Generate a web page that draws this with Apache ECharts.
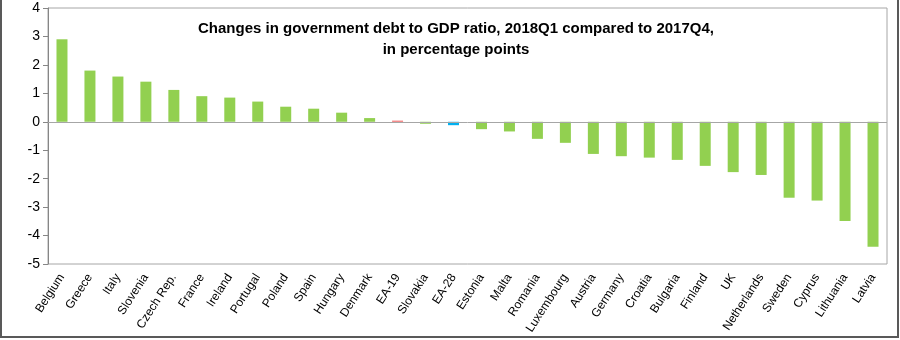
<!DOCTYPE html>
<html><head><meta charset="utf-8">
<script src="https://cdn.jsdelivr.net/npm/echarts@6/dist/echarts.min.js"></script>
<style>html,body{margin:0;padding:0;background:#fff}#c{width:900px;height:340px}</style>
</head><body><div id="c"></div>
<script>
const categories = ["Belgium","Greece","Italy","Slovenia","Czech Rep.","France","Ireland","Portugal","Poland","Spain","Hungary","Denmark","EA-19","Slovakia","EA-28","Estonia","Malta","Romania","Luxembourg","Austria","Germany","Croatia","Bulgaria","Finland","UK","Netherlands","Sweden","Cyprus","Lithuania","Latvia"];
const values = [2.9,1.8,1.59,1.41,1.12,0.9,0.85,0.71,0.53,0.46,0.32,0.13,0.04,-0.07,-0.12,-0.26,-0.34,-0.6,-0.74,-1.13,-1.21,-1.26,-1.34,-1.55,-1.77,-1.87,-2.67,-2.77,-3.49,-4.39];
const yTicks = [-5,-4,-3,-2,-1,0,1,2,3,4];
const highlight = {"EA-19":"#F26D6D","EA-28":"#00B0F0"};
const title = "Changes in government debt to GDP ratio, 2018Q1 compared to 2017Q4,\nin percentage points";

const chart = echarts.init(document.getElementById('c'), null, {renderer:'canvas'});
chart.setOption({
  animation:false,
  title:{text:title,left:451,top:13,textAlign:'center',
    textStyle:{fontFamily:'Liberation Sans, Arial',fontSize:15,fontWeight:'bold',color:'#000',lineHeight:21}},
  grid:{left:48,right:13,top:8,bottom:76,show:true,borderColor:'#a6a6a6',borderWidth:1},
  xAxis:{type:'category',data:categories,
    axisLine:{onZero:false,show:false},axisTick:{show:false},
    axisLabel:{rotate:57,interval:0,fontFamily:'Liberation Sans, Arial',fontSize:12,color:'#000',margin:11}},
  yAxis:{type:'value',min:yTicks[0],max:yTicks[yTicks.length-1],interval:1,
    splitLine:{show:false},
    axisLine:{show:true,lineStyle:{color:'#868686'}},
    axisTick:{show:true,length:5,lineStyle:{color:'#868686'}},
    axisLabel:{fontFamily:'Liberation Sans, Arial',fontSize:14,color:'#000',margin:8}},
  graphic:[{type:'rect',shape:{x:1,y:-2,width:897,height:339},style:{fill:'none',stroke:'#595959',lineWidth:2},z:100}],
  series:[{type:'bar',barWidth:11,
    data:values.map((v,i)=>({value:v,itemStyle:{color:highlight[categories[i]]||'#92D050'}})),
    markLine:{silent:true,symbol:'none',label:{show:false},
      lineStyle:{color:'#a6a6a6',type:'solid',width:1},data:[{yAxis:0}]}
  }]
});
</script></body></html>
